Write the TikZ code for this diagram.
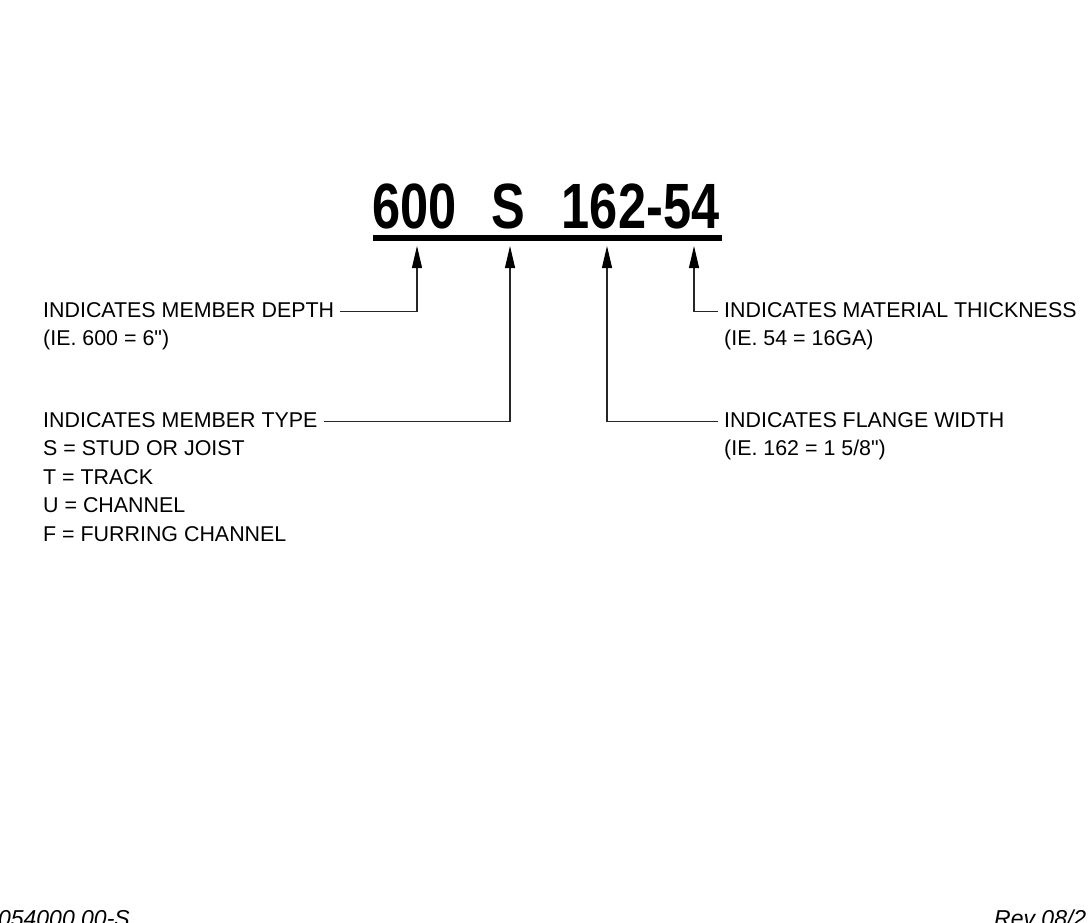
\documentclass[tikz,border=0pt]{standalone}
\usepackage{fontspec}
\setmainfont{Liberation Sans}
\newfontfamily\titlefont[FakeStretch=0.79]{Liberation Sans}
\newcommand\inchmark{\XeTeXglyph\XeTeXcharglyph"22\relax}
\usetikzlibrary{arrows.meta,positioning}
\tikzset{
  codepart/.style={font=\titlefont\bfseries\fontsize{64}{64}\selectfont, inner sep=0pt},
  callout/.style={font=\fontsize{21.4}{28.5}\selectfont, inner xsep=6pt, inner ysep=0pt, anchor=base west},
  sheetref/.style={font=\itshape\fontsize{23}{23}\selectfont, inner sep=0pt},
  leader/.style={line width=1.1pt, black!85, -{Triangle[length=22pt,width=10pt,color=black]}}
}
\begin{document}
\begin{tikzpicture}[x=1pt, y=-1pt]
  \useasboundingbox (0,0) rectangle (1091,922);
  \clip (0,0) rectangle (1091,922);

  % designation
  \node[codepart, anchor=base west] (depth) at (372,228) {600};
  \node[codepart, anchor=base west] (type) at (491,228) {S};
  \node[codepart, anchor=base east] (size) at (719.5,228) {162-54};
  \fill (373,234.5) rectangle (722,241);

  \coordinate (tipD) at (417,246);
  \coordinate (tipT) at (510,246);
  \coordinate (tipF) at (607,246);
  \coordinate (tipK) at (694,246);

  % left side
  \node[callout] (depthhd) at (37,317) {INDICATES MEMBER DEPTH};
  \node[callout] (depthnote) at (37,345.5) {(IE. 600 = 6\inchmark)};
  \node[callout] (typehd) at (37,427) {INDICATES MEMBER TYPE};
  \foreach \txt [count=\i] in {S = STUD OR JOIST, T = TRACK, U = CHANNEL, F = FURRING CHANNEL}
    \node[callout] (typenote\i) at (37,427+28.5*\i) {\txt};

  % right side
  \node[callout] (thickhd) at (718,317) {INDICATES MATERIAL THICKNESS};
  \node[callout] (thicknote) at (718,345.5) {(IE. 54 = 16GA)};
  \node[callout] (flangehd) at (718,427) {INDICATES FLANGE WIDTH};
  \node[callout] (flangenote) at (718,455.5) {(IE. 162 = 1 5/8\inchmark)};

  \draw[leader] ([yshift=-2.3pt]depthhd.east) -| (tipD);
  \draw[leader] ([yshift=-2.3pt]typehd.east) -| (tipT);
  \draw[leader] ([yshift=-2.3pt]flangehd.west) -| (tipF);
  \draw[leader] ([yshift=-2.3pt]thickhd.west) -| (tipK);

  % sheet footer
  \node[sheetref, anchor=base east] (sheetno) at (130,926.5) {054000.00-S};
  \node[sheetref, anchor=base west] (rev) at (994,926.5) {Rev 08/2};
\end{tikzpicture}
\end{document}
